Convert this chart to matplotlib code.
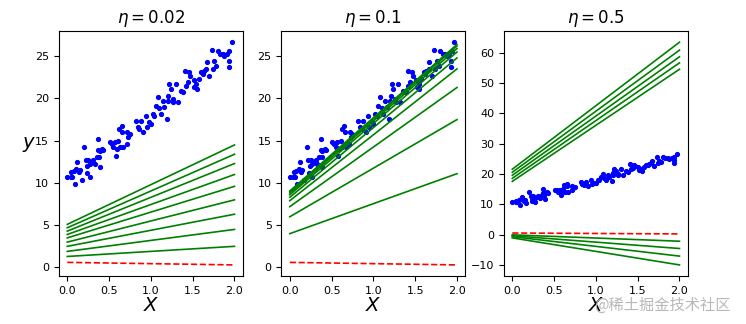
import numpy as np
import matplotlib
matplotlib.use("Agg")
import matplotlib.pyplot as plt

# --- data ---
X = [0.00, 0.04, 0.05, 0.06, 0.08, 0.09, 0.11, 0.12, 0.14, 0.15,
     0.17, 0.20, 0.22, 0.23, 0.24, 0.25, 0.27, 0.27, 0.30, 0.31,
     0.33, 0.35, 0.37, 0.37, 0.38, 0.39, 0.39, 0.42, 0.43, 0.51,
     0.53, 0.55, 0.57, 0.58, 0.59, 0.61, 0.62, 0.63, 0.65, 0.66,
     0.67, 0.71, 0.72, 0.73, 0.75, 0.82, 0.84, 0.86, 0.88, 0.91,
     0.94, 0.95, 0.98, 1.00, 1.02, 1.04, 1.06, 1.08, 1.10, 1.12,
     1.14, 1.16, 1.19, 1.20, 1.21, 1.22, 1.24, 1.26, 1.27, 1.30,
     1.32, 1.36, 1.39, 1.41, 1.42, 1.44, 1.46, 1.47, 1.51, 1.52,
     1.54, 1.55, 1.57, 1.60, 1.62, 1.63, 1.66, 1.67, 1.70, 1.73,
     1.74, 1.76, 1.78, 1.80, 1.83, 1.86, 1.88, 1.91, 1.93, 1.94,
     1.93, 1.97]
y = [10.66, 10.74, 11.26, 10.66, 11.45, 9.87, 11.65, 12.52, 11.26, 11.53,
     10.39, 14.22, 12.72, 11.14, 12.05, 12.72, 10.66, 12.24, 12.52, 12.72,
     12.24, 13.03, 15.21, 13.90, 13.03, 13.82, 11.85, 14.02, 13.90, 14.81,
     14.61, 14.22, 14.81, 13.23, 14.02, 15.01, 16.39, 14.22, 16.79, 16.00,
     14.22, 14.61, 16.00, 15.40, 15.80, 17.38, 16.59, 16.39, 17.38, 16.00,
     17.97, 16.67, 17.18, 16.98, 18.17, 17.97, 19.15, 20.14, 18.84, 18.17,
     19.75, 18.96, 17.58, 19.75, 20.34, 21.72, 21.13, 19.94, 19.55, 21.72,
     19.55, 20.85, 20.73, 23.30, 21.52, 21.92, 23.10, 22.71, 22.24, 21.33,
     21.72, 21.13, 22.31, 23.10, 22.91, 23.22, 23.50, 24.29, 22.71, 25.75,
     23.50, 24.41, 23.89, 25.67, 25.28, 25.28, 25.08, 25.28, 23.70, 25.67,
     24.49, 26.66]

etas = [0.02, 0.1, 0.5]

# initial guess (red dashed), value at x=0 and x=2
init_start, init_end = 0.6, 0.3

# green lines: value at x=0 and at x=2, per learning rate
starts_002 = [1.3, 1.9, 2.5, 3.0, 3.5, 3.9, 4.3, 4.7, 5.1]
ends_002 = [2.5, 4.5, 6.3, 8.0, 9.6, 11.0, 12.3, 13.4, 14.5]

starts_01 = [4.0, 6.0, 7.2, 7.9, 8.3, 8.6, 8.8, 8.95, 9.05]
ends_01 = [11.1, 17.5, 21.3, 23.5, 24.8, 25.5, 25.9, 26.2, 26.4]

starts_05 = [0.0, 17.6, -0.3, 18.6, -0.6, 19.6, -1.0, 20.6, 21.6]
ends_05 = [-2.1, 54.5, -4.5, 56.6, -7.0, 58.6, -9.9, 60.8, 63.4]

lines = [(starts_002, ends_002), (starts_01, ends_01), (starts_05, ends_05)]

X_new = [0, 2]

fig, axes = plt.subplots(1, 3, figsize=(7.46, 3.24), dpi=100)
fig.subplots_adjust(left=0.079, right=0.922, bottom=0.148, top=0.904, wspace=0.21)

for i, (ax, eta, (starts, ends)) in enumerate(zip(axes, etas, lines)):
    ax.plot(X, y, "b.", markersize=5.5)
    ax.plot(X_new, [init_start, init_end], "r--", linewidth=1.2)
    for s, e in zip(starts, ends):
        ax.plot(X_new, [s, e], "g-", linewidth=1.2)
    ax.set_xlabel("$X$", fontsize=14, labelpad=0)
    ax.set_title(r"$\eta = {}$".format(eta), fontsize=12)
    ax.tick_params(labelsize=8)
    if i == 0:
        ax.set_ylabel("$y$", rotation=0, fontsize=14)

# watermark of the source site
fig.text(0.797, 0.058, "@稀土掘金技术社区", fontsize=11, color="#b8b8b8",
         family=["Noto Sans CJK SC", "DejaVu Sans"], va="center")

fig.savefig("out.png")
